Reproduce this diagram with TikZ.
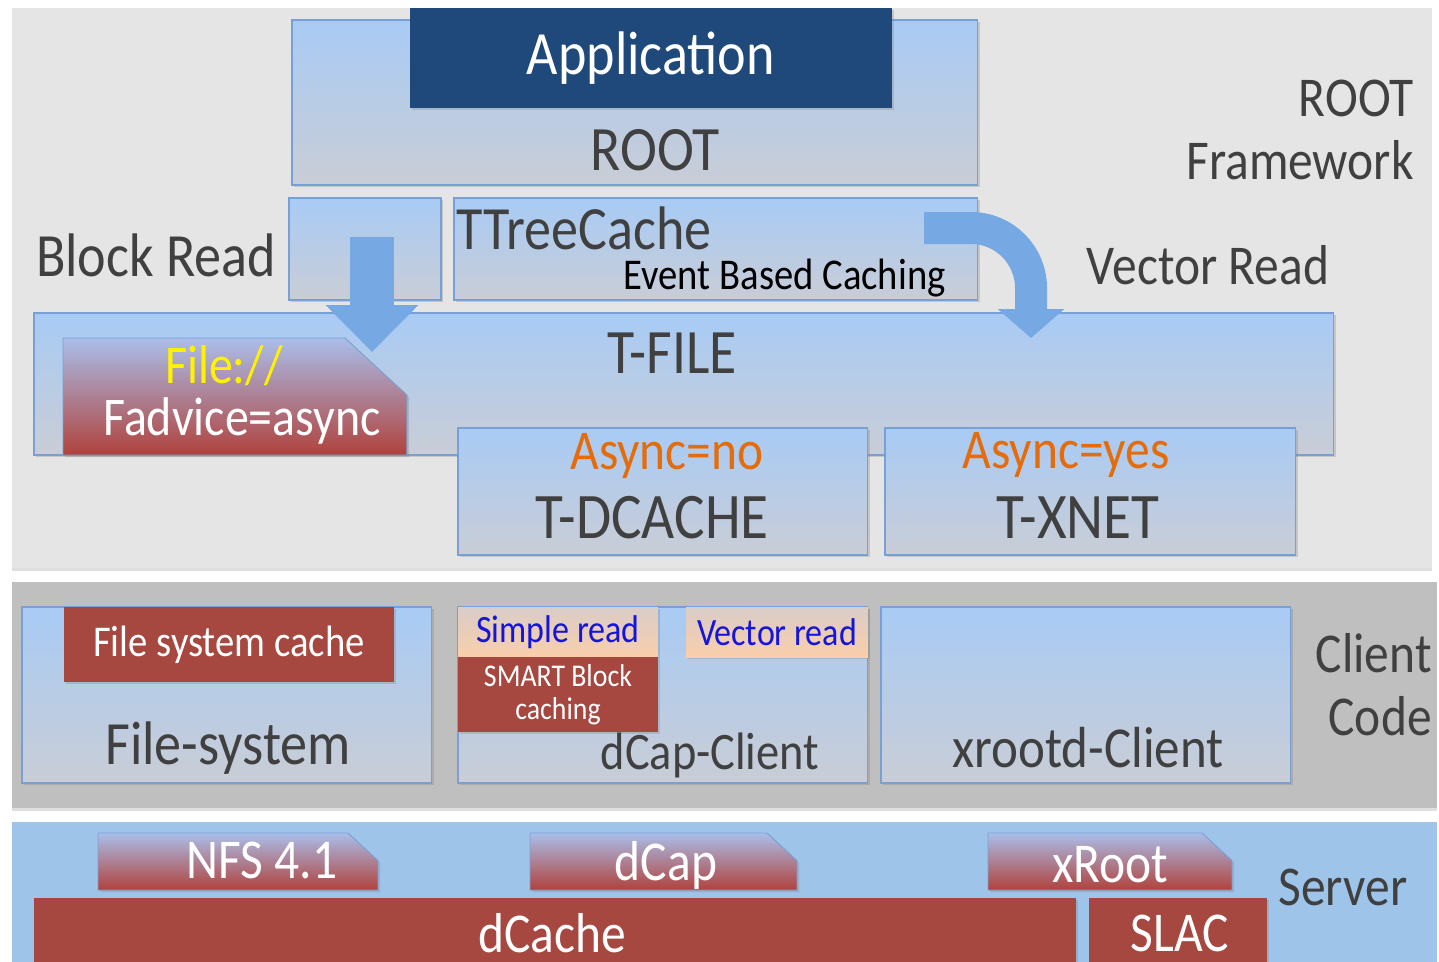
\documentclass[tikz,border=0pt]{standalone}
\usepackage{fontspec}
\setmainfont[FakeStretch=0.88]{Carlito}
\usetikzlibrary{arrows.meta,positioning,shadows}

\definecolor{ink}{RGB}{64,64,64}
\definecolor{appblue}{RGB}{31,73,122}
\definecolor{boxtop}{RGB}{168,203,245}
\definecolor{boxbot}{RGB}{201,205,214}
\definecolor{boxline}{RGB}{120,160,212}
\definecolor{brick}{RGB}{166,71,64}
\definecolor{tabtop}{RGB}{170,190,234}
\definecolor{tabbot}{RGB}{176,66,60}
\definecolor{srvblue}{RGB}{159,196,234}
\definecolor{peach}{RGB}{250,206,170}
\definecolor{async}{RGB}{228,108,10}
\definecolor{arrowblue}{RGB}{118,168,228}
\definecolor{readblue}{RGB}{20,20,220}

\newcommand\txtsize[1]{\fontsize{#1}{#1}\selectfont}

\begin{document}
\begin{tikzpicture}[x=0.02cm,y=-0.02cm,>=Latex]
  \tikzstyle{panel}=[inner sep=0,outer sep=0,anchor=north west,drop shadow={shadow xshift=0pt,shadow yshift=-2pt,opacity=0.25}]
  \tikzstyle{bluebox}=[draw=boxline,line width=0.6pt,top color=boxtop,bottom color=boxbot,inner sep=0,outer sep=0,anchor=north west,drop shadow={shadow xshift=1.2pt,shadow yshift=-1.2pt,opacity=0.3}]
  \tikzstyle{redbox}=[fill=brick,inner sep=0,outer sep=0,anchor=north west,drop shadow={shadow xshift=1.2pt,shadow yshift=-1.2pt,opacity=0.3}]
  \tikzstyle{tabspot}=[inner sep=0,outer sep=0,anchor=north west]
  \tikzstyle{tabfill}=[top color=tabtop,bottom color=tabbot,draw=boxline,line width=0.5pt,drop shadow={shadow xshift=1.2pt,shadow yshift=-1.2pt,opacity=0.3}]
  \tikzstyle{lbl}=[text=ink,inner sep=0,font=\txtsize{32}]
  \tikzstyle{bigarrow}=[draw=arrowblue,line width=0.88cm,-{Triangle[width=1.8cm,length=0.94cm]}]
  \useasboundingbox (0,0) rectangle (1439,961);
  \clip (0,0) rectangle (1439,961);

  % three layers
  \node[panel,fill=gray!20,minimum width=28.4cm,minimum height=11.2cm] (fwpanel) at (12,8) {};
  \node[panel,fill=gray!50,minimum width=28.5cm,minimum height=4.52cm] (clpanel) at (12,582) {};
  \node[panel,fill=srvblue,minimum width=28.5cm,minimum height=3.2cm] (srvpanel) at (12,822) {};

  % ROOT framework
  \node[bluebox,minimum width=13.72cm,minimum height=3.3cm] (root) at (292,20) {};
  \node[redbox,fill=appblue,minimum width=9.64cm,minimum height=2cm] (app) at (410,8) {};
  \node[lbl,text=white,font=\txtsize{35}] (apptxt) at (app.center) {Application};
  \node[lbl,font=\txtsize{36}] (roottxt) at (655,150) {ROOT};
  \node[lbl,align=right,anchor=east,font=\txtsize{32}] (fwtxt) at (1414,130) {ROOT\\[4pt]Framework};

  \node[bluebox,minimum width=3.04cm,minimum height=2.04cm] (blk) at (289,198) {};
  \node[bluebox,minimum width=10.48cm,minimum height=2.04cm] (ttc) at (454,198) {};
  \node[lbl,anchor=west,font=\txtsize{35}] (ttctxt) at (456,228) {TTreeCache};
  \node[lbl,anchor=east,text=black,font=\txtsize{25}] (ebc) at (946,278) {Event Based Caching};
  \node[lbl,font=\txtsize{35}] (blkrd) at (156,255) {Block Read};
  \node[lbl] (vecrd) at (1208,265) {Vector Read};

  \node[bluebox,minimum width=26cm,minimum height=2.84cm] (tfile) at (34,313) {};
  \node[lbl,font=\txtsize{36}] (tfiletxt) at (672,353) {T-FILE};
  \node[tabspot,minimum width=6.88cm,minimum height=2.34cm] (furl) at (63,338) {};
  \shade[tabfill] (furl.south west) -- (furl.north west) -- ([xshift=-1.24cm]furl.north east)
    -- ([yshift=-1.14cm]furl.north east) -- (furl.south east) -- cycle;
  \node[lbl,text=yellow,font=\txtsize{31}] (furltxt) at (224,366) {File://};
  \node[lbl,text=white,font=\txtsize{31}] (fadv) at (242,421) {Fadvice=async};

  \node[bluebox,minimum width=8.2cm,minimum height=2.54cm] (tdc) at (458,428) {};
  \node[lbl,text=async] (ano) at (667,456) {Async=no};
  \node[lbl,font=\txtsize{37}] (tdctxt) at (652,518) {T-DCACHE};
  \node[bluebox,minimum width=8.22cm,minimum height=2.54cm] (txn) at (885,428) {};
  \node[lbl,text=async] (ayes) at (1066,455) {Async=yes};
  \node[lbl,font=\txtsize{37}] (txntxt) at (1078,518) {T-XNET};

  % read paths
  \coordinate (brstart) at (372,237);
  \coordinate (brtip) at (372,352);
  \draw[bigarrow] (brstart) -- (brtip);
  \coordinate (vrstart) at (924,228);
  \coordinate (vrtip) at (1031,338);
  \draw[bigarrow,line width=0.64cm,-{Triangle[width=1.3cm,length=0.58cm]},rounded corners=1.2cm] (vrstart) -| (vrtip);

  % client code
  \node[bluebox,minimum width=8.2cm,minimum height=3.52cm] (fsys) at (22,607) {};
  \node[redbox,minimum width=6.6cm,minimum height=1.5cm] (fscache) at (64,607) {};
  \node[lbl,text=white,font=\txtsize{25}] (fscachetxt) at (fscache.center) {File system cache};
  \node[lbl,font=\txtsize{35}] (fsystxt) at (228,748) {File-system};

  \node[bluebox,minimum width=8.2cm,minimum height=3.52cm] (dcapc) at (458,607) {};
  \node[bluebox,draw=none,top color=boxtop!40!peach,bottom color=peach,minimum width=4cm,minimum height=1cm] (simple) at (458,607) {};
  \node[lbl,text=readblue,font=\txtsize{22}] (simpletxt) at (simple.center) {Simple read};
  \node[redbox,minimum width=4cm,minimum height=1.5cm] (smart) at (458,657) {};
  \node[lbl,text=white,align=center,font=\txtsize{18}] (smarttxt) at (smart.center) {SMART Block\\[1pt]caching};
  \node[bluebox,draw=none,top color=boxtop!40!peach,bottom color=peach,minimum width=3.64cm,minimum height=1cm] (vector) at (686,607) {};
  \node[lbl,text=readblue,font=\txtsize{22}] (vectortxt) at (vector.center) {Vector read};
  \node[lbl,font=\txtsize{30}] (dcapctxt) at (710,755) {dCap-Client};

  \node[bluebox,minimum width=8.2cm,minimum height=3.52cm] (xrdc) at (881,607) {};
  \node[lbl,font=\txtsize{33}] (xrdctxt) at (1088,748) {xrootd-Client};
  \node[lbl,align=right,anchor=east] (cltxt) at (1432,685) {Client\\[4pt]Code};

  % server
  \node[tabspot,minimum width=5.6cm,minimum height=1.14cm] (nfs) at (98,833) {};
  \shade[tabfill] (nfs.south west) -- (nfs.north west) -- ([xshift=-0.6cm]nfs.north east)
    -- ([yshift=-0.55cm]nfs.north east) -- (nfs.south east) -- cycle;
  \node[lbl,text=white] (nfstxt) at (262,860) {NFS 4.1};
  \node[tabspot,minimum width=5.34cm,minimum height=1.14cm] (dcaptab) at (530,833) {};
  \shade[tabfill] (dcaptab.south west) -- (dcaptab.north west) -- ([xshift=-0.6cm]dcaptab.north east)
    -- ([yshift=-0.55cm]dcaptab.north east) -- (dcaptab.south east) -- cycle;
  \node[lbl,text=white] (dcaptxt) at (666,865) {dCap};
  \node[tabspot,minimum width=4.88cm,minimum height=1.14cm] (xroot) at (988,833) {};
  \shade[tabfill] (xroot.south west) -- (xroot.north west) -- ([xshift=-0.6cm]xroot.north east)
    -- ([yshift=-0.55cm]xroot.north east) -- (xroot.south east) -- cycle;
  \node[lbl,text=white] (xroottxt) at (1110,865) {xRoot};
  \node[redbox,minimum width=20.84cm,minimum height=1.6cm] (dcache) at (34,898) {};
  \node[lbl,text=white] (dcachetxt) at (552,933) {dCache};
  \node[redbox,minimum width=3.56cm,minimum height=1.6cm] (slac) at (1089,898) {};
  \node[lbl,text=white] (slactxt) at (1180,933) {SLAC};
  \node[lbl] (srvtxt) at (1343,887) {Server};
\end{tikzpicture}
\end{document}
